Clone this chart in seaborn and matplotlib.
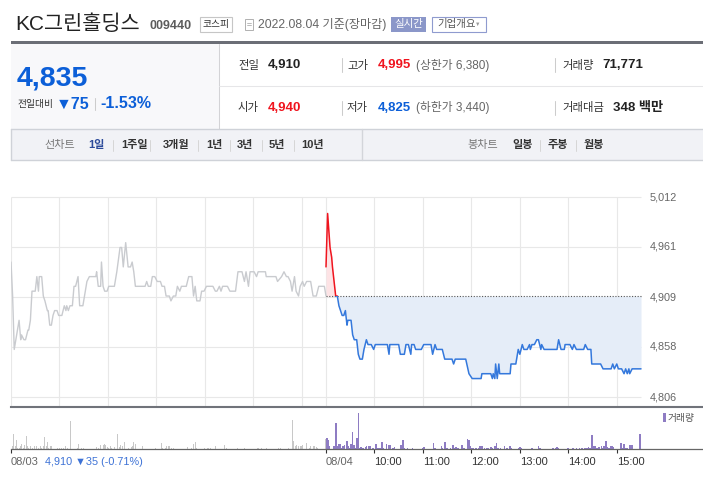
import numpy as np
import pandas as pd
import matplotlib
matplotlib.use("Agg")
import matplotlib.pyplot as plt
import seaborn as sns
from matplotlib.patches import Rectangle
from matplotlib.lines import Line2D

# ---------------- data ----------------
prev_close = 4910
y_ticks = [4806, 4858, 4909, 4961, 5012]
y_tick_labels = ["4,806", "4,858", "4,909", "4,961", "5,012"]

# (minutes after 09:00, price) 08/03
day1_price = [(0,4945),(2,4910),(4,4855),(7,4870),(10,4885),(12,4865),(13,4870),(16,4865),(18,4865),(21,4875),
    (22,4875),(24,4885),(26,4915),(30,4915),(32,4930),(34,4915),(35,4930),(38,4930),(40,4910),(42,4905),
    (45,4895),(46,4895),(48,4880),(50,4880),(52,4890),(54,4895),(57,4895),(59,4890),(63,4890),(66,4900),
    (68,4895),(69,4900),(71,4895),(73,4900),(76,4900),(78,4920),(80,4920),(83,4930),(85,4900),(89,4900),
    (92,4915),(94,4925),(97,4930),(105,4930),(106,4935),(108,4920),(111,4920),(112,4945),(114,4920),(116,4915),
    (119,4915),(121,4920),(128,4920),(131,4935),(135,4960),(137,4960),(139,4940),(142,4965),(145,4940),(148,4940),
    (150,4945),(152,4935),(154,4920),(166,4920),(168,4925),(170,4920),(173,4920),(175,4930),(178,4930),(181,4925),
    (185,4925),(187,4920),(190,4920),(192,4910),(196,4910),(198,4905),(201,4910),(204,4910),(206,4920),(209,4915),
    (211,4920),(217,4920),(220,4930),(224,4930),(226,4910),(228,4920),(230,4905),(234,4905),(236,4915),(239,4915),
    (242,4920),(250,4920),(253,4915),(255,4915),(258,4920),(260,4915),(262,4920),(268,4920),(271,4915),(278,4915),
    (281,4935),(286,4935),(289,4925),(291,4935),(294,4920),(296,4935),(301,4935),(304,4930),(306,4935),(315,4935),
    (316,4930),(328,4930),(330,4925),(335,4930),(338,4935),(341,4930),(343,4930),(346,4925),(348,4915),(351,4930),
    (353,4915),(356,4910),(358,4920),(361,4925),(363,4920),(366,4925),(371,4925),(374,4910),(378,4910),(381,4920),
    (388,4920),(390,4910)]

# (minutes after 09:00, price) 08/04
day2_price = [(0,4940),(2,4995),(5,4960),(7,4950),(8,4940),(10,4925),(12,4910),(14,4910),(16,4900),(18,4895),
    (20,4890),(22,4890),(24,4895),(26,4880),(27,4885),(31,4885),(33,4870),(35,4865),(38,4865),(40,4850),
    (42,4845),(45,4845),(47,4855),(50,4865),(52,4860),(56,4860),(59,4855),(61,4860),(76,4860),(78,4850),
    (79,4860),(90,4860),(92,4850),(97,4850),(99,4860),(102,4860),(105,4850),(106,4860),(109,4860),(111,4855),
    (118,4855),(121,4860),(130,4860),(132,4850),(135,4860),(137,4855),(144,4855),(147,4845),(156,4845),(158,4840),
    (160,4845),(173,4845),(177,4830),(181,4825),(192,4825),(193,4830),(204,4830),(206,4825),(207,4830),(209,4825),
    (210,4840),(212,4825),(214,4840),(215,4830),(228,4830),(229,4840),(235,4840),(238,4855),(240,4850),(243,4860),
    (245,4855),(249,4855),(252,4860),(253,4855),(255,4860),(258,4860),(261,4865),(263,4865),(266,4855),(267,4860),
    (270,4855),(286,4855),(288,4865),(291,4855),(295,4855),(296,4860),(302,4860),(305,4855),(307,4860),(310,4855),
    (319,4855),(321,4860),(324,4855),(328,4855),(329,4840),(340,4840),(343,4835),(353,4835),(355,4840),(357,4835),
    (360,4840),(362,4835),(366,4835),(369,4830),(371,4835),(373,4830),(375,4835),(376,4830),(379,4835),(390,4835)]

# (minutes after 09:00, shares) volume
day1_volume = [(0,1950),(2,400),(3,2250),(5,400),(7,1350),(8,200),(10,200),(12,400),(13,750),(15,200),
    (17,600),(19,1950),(20,400),(22,200),(24,400),(26,5100),(27,200),(29,400),(31,400),(32,400),
    (34,200),(36,400),(38,200),(40,400),(42,1800),(44,400),(45,1050),(47,200),(49,400),(50,500),
    (52,750),(58,200),(60,200),(63,200),(65,200),(68,400),(70,200),(74,4200),(82,200),(84,750),
    (87,200),(90,200),(106,300),(108,200),(111,600),(114,600),(116,750),(117,550),(119,300),(121,200),
    (123,400),(125,200),(128,300),(130,200),(132,2250),(134,300),(136,550),(138,500),(140,1050),(146,200),
    (149,300),(151,400),(152,1050),(154,750),(163,500),(179,200),(186,900),(188,200),(191,200),(193,500),
    (195,400),(196,400),(199,200),(201,200),(218,300),(224,200),(226,750),(228,1050),(230,200),(240,200),
    (243,200),(245,200),(247,200),(253,400),(264,600),(267,200),(280,200),(289,200),(305,200),(307,200),
    (310,200),(316,200),(331,200),(334,200),(344,200),(348,4350),(350,1200),(352,400),(354,600),(356,400),
    (358,400),(360,400),(361,600),(364,750),(366,900),(369,200),(371,400),(374,400),(376,400),(378,300),
    (380,200),(389,1500)]

day2_volume = [(1,1600),(3,1400),(4,400),(10,500),(12,3900),(14,500),(16,750),(17,750),(20,200),(21,400),
    (23,600),(26,1200),(27,400),(29,200),(31,750),(33,2550),(35,600),(37,200),(38,1650),(40,5400),
    (41,200),(43,300),(45,200),(46,200),(49,300),(50,400),(53,500),(55,500),(58,200),(62,750),
    (64,200),(67,200),(69,1050),(71,200),(75,750),(78,600),(79,600),(83,200),(85,300),(92,600),
    (93,600),(95,1350),(97,200),(101,200),(107,200),(120,200),(121,300),(133,900),(135,200),(143,400),
    (144,200),(147,1050),(150,200),(154,200),(157,600),(159,200),(161,300),(163,200),(164,200),(168,600),
    (169,200),(171,200),(175,1500),(177,1400),(178,500),(180,200),(182,200),(186,200),(189,200),(191,400),
    (193,500),(196,200),(199,200),(201,200),(204,300),(206,200),(209,400),(211,900),(213,200),(216,200),
    (221,500),(224,200),(228,500),(229,200),(239,200),(240,300),(242,200),(255,200),(263,400),(265,200),
    (281,200),(285,200),(286,300),(288,200),(299,200),(300,200),(306,200),(310,200),(314,200),(317,200),
    (320,200),(322,200),(324,200),(325,300),(327,200),(329,2100),(331,500),(333,400),(335,200),(337,200),
    (338,300),(341,500),(343,200),(344,400),(347,1200),(348,300),(350,200),(352,500),(354,400),(356,300),
    (365,900),(367,200),(369,750),(371,200),(373,200),(376,600),(377,200),(379,600),(389,2250)]

x_tick_minutes = [0, 390, 450, 510, 570, 630, 690, 750]
x_tick_labels = ["08/03", "08/04", "10:00", "11:00", "12:00", "13:00", "14:00", "15:00"]
grid_minutes = [0, 60, 120, 180, 240, 300, 360, 390, 450, 510, 570, 630, 690, 750]

# ---------------- styling / layout ----------------
sns.set_theme(style="white")
plt.rcParams['font.family'] = ['Liberation Sans', 'Noto Sans CJK KR', 'DejaVu Sans']
plt.rcParams['axes.unicode_minus'] = False

W, H = 703, 479
fig = plt.figure(figsize=(W / 100, H / 100), dpi=100)
fig.patch.set_facecolor('white')

def fx(x): return x / W
def fy(y): return 1 - y / H

def text(x, y, s, size, color='#333', weight='normal', ha='left', va='center'):
    fig.text(fx(x), fy(y), s, fontsize=size, color=color, fontweight=weight, ha=ha, va=va)

def rect(x, y, w, h, fc='none', ec='none', lw=0.0, z=0):
    fig.add_artist(Rectangle((fx(x), fy(y + h)), w / W, h / H, transform=fig.transFigure,
                             facecolor=fc, edgecolor=ec, linewidth=lw, zorder=z))

def line(x0, y0, x1, y1, color, lw=0.75):
    fig.add_artist(Line2D([fx(x0), fx(x1)], [fy(y0), fy(y1)], transform=fig.transFigure,
                          color=color, linewidth=lw))

BLUE = '#0c5fd8'
RED = '#f0141e'

# header
text(15, 24, 'KC그린홀딩스', 15, '#222')
text(150, 26, '009440', 9, '#5c5c5c', 'bold')
rect(200, 17, 32, 15, fc='white', ec='#c6c6c6', lw=0.8)
text(216, 24.5, '코스피', 7, '#333', ha='center')
rect(245, 19, 8, 11, fc='white', ec='#b0b0b0', lw=0.7)
line(247, 22.5, 251, 22.5, '#b0b0b0', 0.6)
line(247, 25, 251, 25, '#b0b0b0', 0.6)
text(258, 24.5, '2022.08.04 기준(장마감)', 8.7, '#666')
rect(391, 17, 35, 15, fc='#8b97c9')
text(408.5, 24.5, '실시간', 7.5, 'white', ha='center')
rect(432, 17, 54, 15, fc='white', ec='#8f9bcf', lw=0.8)
text(437, 24.5, '기업개요', 7.5, '#555')
text(475, 24.5, '▼', 4, '#999')

# info panel
rect(11, 41, 692, 3, fc='#6b6e76')
rect(11, 44, 208, 85, fc='#f8f8fa')
line(219, 44, 219, 129, '#d3d3d6')
line(219, 86, 703, 86, '#e6e6e8')
line(11, 129, 703, 129, '#cfd2d8', 1.0)
text(17, 78, '4,835', 20.5, BLUE, 'bold')
text(18, 104, '전일대비', 7, '#333')
text(56, 104, '▼75', 11.5, BLUE, 'bold')
line(95, 98, 95, 110, '#cccccc')
text(100, 104, '-1.53%', 11.5, BLUE, 'bold')

for yy, items in [(65, [('전일', '4,910', '#222', None), ('고가', '4,995', RED, '(상한가 6,380)'), ('거래량', '71,771', '#222', None)]),
                  (108, [('시가', '4,940', RED, None), ('저가', '4,825', BLUE, '(하한가 3,440)'), ('거래대금', '348 백만', '#222', None)])]:
    xs = [(238, 268, None), (347, 378, 342), (562, 602 if yy == 65 else 613, 555)]
    for (lab, val, col, extra), (xl, xv, sep) in zip(items, xs):
        if sep:
            line(sep, yy - 7, sep, yy + 7, '#cccccc')
        text(xl, yy, lab, 8.2, '#333')
        text(xv, yy, val, 9.5, col, 'bold')
        if extra:
            text(416, yy, extra, 8.5, '#666')

# tab bar
rect(11, 129, 692, 31, fc='#f1f2f6')
line(11, 160, 703, 160, '#cfd2d8', 1.0)
line(11, 129, 11, 160, '#cfd2d8', 1.0)
line(362, 129, 362, 160, '#d3d5da', 1.0)
text(44, 145, '선차트', 8, '#777')
text(88, 145, '1일', 8, '#2b4a9a', 'bold')
for sx in [113, 150, 198, 230, 262, 294, 540, 576]:
    line(sx, 140, sx, 151, '#d6d6d6', 0.7)
for tx, lab in [(121, '1주일'), (163, '3개월'), (206, '1년'), (237, '3년'), (269, '5년'), (301, '10년'),
                (512, '일봉'), (548, '주봉'), (584, '월봉')]:
    text(tx, 145, lab, 8, '#333', 'bold')
text(467, 145, '봉차트', 8, '#777')

# ---------------- price chart ----------------
PX_PER_MIN = 630 / 780
XMAX = 692 / PX_PER_MIN
PX_PER_WON = 200 / 206
ax = fig.add_axes([fx(11), fy(406.5), 692 / W, (406.5 - 196) / H])
ax.set_xlim(0, XMAX)
ax.set_ylim(4806 - 9.5 / PX_PER_WON, 5012 + 1 / PX_PER_WON)
ax.set_facecolor('none')
for s in ['top', 'left', 'right']:
    ax.spines[s].set_visible(False)
ax.spines['bottom'].set_color('#70737a')
ax.spines['bottom'].set_linewidth(1.5)

ax.vlines(grid_minutes, ax.get_ylim()[0], y_ticks[-1], colors='#e8e8e8', lw=0.8, zorder=0)
ax.hlines(y_ticks, 0, 780, colors='#e8e8e8', lw=0.8, zorder=0)
for v, lab in zip(y_ticks, y_tick_labels):
    ax.text(791, v, lab, ha='left', va='center', fontsize=7.8, color='#666')

d1 = pd.DataFrame(day1_price, columns=['minute', 'price'])
d2 = pd.DataFrame(day2_price, columns=['minute', 'price'])
d2['minute'] = d2['minute'] + 390

sns.lineplot(data=d1, x='minute', y='price', ax=ax, color='#c9cbcf', lw=1.0,
             estimator=None, sort=False, legend=False)

x2 = d2['minute'].to_numpy(); p2 = d2['price'].to_numpy()
ax.fill_between(x2, p2, prev_close, where=p2 >= prev_close, interpolate=True, color='#fde3e5', lw=0, zorder=1)
ax.fill_between(x2, p2, prev_close, where=p2 <= prev_close, interpolate=True, color='#e5edf8', lw=0, zorder=1)
ax.hlines(prev_close, 390, 780, colors='#555', linestyles=(0, (1, 1.5)), lw=0.8, zorder=2)

for col, clip in [(RED, Rectangle((380, prev_close), 420, 300, transform=ax.transData)),
                  ('#3478dc', Rectangle((380, 4600), 420, prev_close - 4600, transform=ax.transData))]:
    n = len(ax.lines)
    sns.lineplot(data=d2, x='minute', y='price', ax=ax, color=col, lw=1.1,
                 estimator=None, sort=False, legend=False)
    ax.lines[n].set_clip_path(clip)
    ax.lines[n].set_zorder(3)
ax.set_xlabel(''); ax.set_ylabel('')
ax.set_xticks([]); ax.set_yticks([])

# ---------------- volume chart ----------------
axv = fig.add_axes([fx(11), fy(449), 692 / W, (449 - 407) / H])
axv.set_xlim(0, XMAX)
axv.set_ylim(0, 42 * 150)
axv.set_facecolor('none')
for s in ['top', 'left', 'right']:
    axv.spines[s].set_visible(False)
axv.spines['bottom'].set_color('#666')
axv.spines['bottom'].set_linewidth(0.9)
v1 = pd.DataFrame(day1_volume, columns=['minute', 'volume'])
v2 = pd.DataFrame(day2_volume, columns=['minute', 'volume'])
axv.bar(v1['minute'], v1['volume'], width=1.2, color='#c8c8c8', lw=0)
axv.bar(v2['minute'] + 390, v2['volume'], width=2.0, color='#8e7cc3', lw=0)
axv.set_yticks([])
axv.set_xticks(x_tick_minutes)
axv.set_xticklabels(x_tick_labels)
axv.tick_params(axis='x', direction='out', length=3, width=0.8, color='#333', pad=2.5,
                labelsize=8, bottom=True)
for i, t in enumerate(axv.get_xticklabels()):
    t.set_ha('left')
    t.set_color('#666' if i < 2 else '#333')
axv.text(42, -0.2, '4,910 ▼35 (-0.71%)', transform=axv.get_xaxis_transform(),
         ha='left', va='top', fontsize=7.8, color='#3d72d6')

rect(663, 413, 3, 9, fc='#8e7cc3')
text(668, 418, '거래량', 7, '#555')

fig.savefig('out.png', dpi=100, facecolor='white')
